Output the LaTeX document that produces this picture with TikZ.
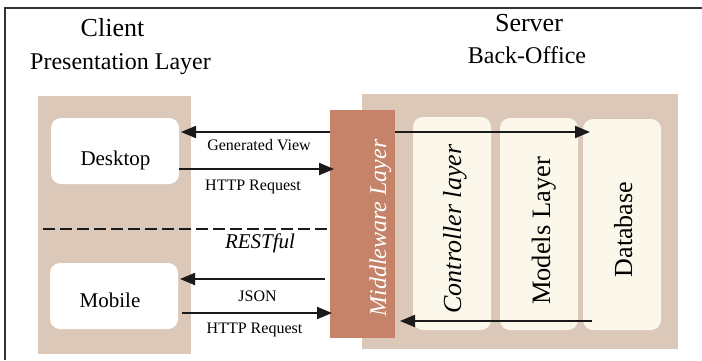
\documentclass[tikz,border=0pt]{standalone}
\usepackage{fontspec}
\setmainfont{Liberation Serif}
\usetikzlibrary{arrows.meta,calc}
\definecolor{panel}{HTML}{DCC8B8}
\definecolor{mware}{HTML}{C5836A}
\definecolor{cream}{HTML}{FBF7EB}
\definecolor{ink}{HTML}{1A1A1A}
\definecolor{frame}{HTML}{333333}
\begin{document}
\begin{tikzpicture}[x=1pt,y=-1pt,
  rect/.style={draw=none,inner sep=0pt,outer sep=0pt,rectangle},
  rbox/.style={rect,rounded corners=10pt},
  lbl/.style={anchor=base,inner sep=0pt},
  arr/.style={draw=ink,line width=2pt,-{Triangle[length=15pt,width=12pt]}},
  fs/.style={font=\rmfamily\upshape\fontsize{#1}{#1}\selectfont},
  fsi/.style={font=\rmfamily\itshape\fontsize{#1}{#1}\selectfont}]
\useasboundingbox (0,0) rectangle (702,360);
% frame
\draw[frame,line width=2pt] (4.5,360) -- (4.5,8) -- (702,8);
% titles
\node[lbl,fs=26] (client) at (112.5,36) {Client};
\node[lbl,fs=24] (pres) at (120.5,69) {Presentation Layer};
\node[lbl,fs=26] (server) at (529,31) {Server};
\node[lbl,fs=24] (back) at (527,63) {Back-Office};
% panels
\node[rect,fill=panel,minimum width=153pt,minimum height=258pt] (cpanel) at (114.5,225) {};
\node[rect,fill=panel,minimum width=316pt,minimum height=255pt] (spanel) at (520,221.5) {};
% client boxes
\node[rbox,fill=white,minimum width=128pt,minimum height=66pt] (desk) at (115,151) {};
\node[rbox,fill=white,minimum width=128pt,minimum height=66pt] (mob) at (114,296) {};
\node[lbl,fs=21] (deskt) at (115.5,165) {Desktop};
\node[lbl,fs=21] (mobt) at (110,307) {Mobile};
% server boxes
\node[rbox,fill=cream,minimum width=78pt,minimum height=213pt] (ctrl) at (452,223.5) {};
\node[rbox,fill=cream,minimum width=78pt,minimum height=212pt] (models) at (539,224) {};
\node[rbox,fill=cream,minimum width=78pt,minimum height=211pt] (db) at (622,224.5) {};
\node[lbl,fsi=26,rotate=90] (ctrlt) at (461,229) {Controller layer};
\node[lbl,fs=26.5,rotate=90] (modelst) at (550,231) {Models Layer};
\node[lbl,fs=26,rotate=90] (dbt) at (632,229.5) {Database};
% middleware
\node[rect,fill=mware,minimum width=65pt,minimum height=228pt] (mw) at (362.5,224) {};
\node[lbl,fsi=24,rotate=90,text=white] (mwt) at (386,228) {Middleware Layer};
% dashed separator
\coordinate (dashL) at (43,229);
\draw[ink,line width=2pt,dash pattern=on 12pt off 5pt] (dashL) -- (mw.west |- dashL);
\node[lbl,fsi=21] (rest) at (260,248) {RESTful};
% desktop arrows
\draw[arr] (mw.west |- 0,132) -- ($(desk.east |- 0,132)+(2,0)$);
\draw[arr] ($(desk.east |- 0,169)$) -- ($(mw.west |- 0,169)+(4,0)$);
\node[lbl,fs=16] (gv) at (259,150) {Generated View};
\node[lbl,fs=16] (hr1) at (253,190) {HTTP Request};
% mobile arrows
\draw[arr] ($(mw.west |- 0,279)+(-5,0)$) -- ($(mob.east |- 0,279)+(2,0)$);
\draw[arr] ($(mob.east |- 0,313)+(4,0)$) -- ($(mw.west |- 0,313)+(2,0)$);
\node[lbl,fs=16] (json) at (257.5,301) {JSON};
\node[lbl,fs=16] (hr2) at (254.5,333) {HTTP Request};
% server arrows
\draw[arr] (mw.east |- 0,132) -- ($(db.west |- 0,132)+(7,0)$);
\draw[arr] ($(db.west |- 0,321)+(9,0)$) -- ($(mw.east |- 0,321)+(5,0)$);
\end{tikzpicture}
\end{document}
